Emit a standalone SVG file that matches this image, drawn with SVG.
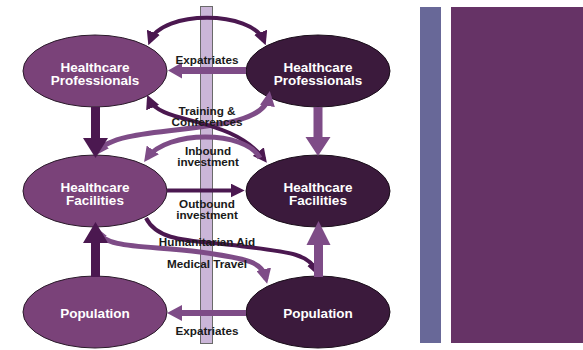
<svg xmlns="http://www.w3.org/2000/svg" width="583" height="350" viewBox="0 0 583 350">
<style>
.nl{fill:#7a4279;stroke:#2a1a2a;stroke-width:1}
.nd{fill:#3b1a3c;stroke:#1a0d1a;stroke-width:1}
.nt{font-family:"Liberation Sans",Arial,sans-serif;font-weight:bold;font-size:13.5px;fill:#ffffff;text-anchor:middle}
.lb{font-family:"Liberation Sans",Arial,sans-serif;font-weight:bold;font-size:11.7px;fill:#1a1a1a;text-anchor:middle}
.cd{fill:none;stroke:#4b1850;stroke-width:4}
.cm{fill:none;stroke:#7e4c87;stroke-width:5}
.fd{fill:#4b1850}
.fm{fill:#7e4c87}
</style>
<defs>
<marker id="ad" markerUnits="userSpaceOnUse" markerWidth="14" markerHeight="14" viewBox="0 0 12 12" refX="8" refY="6" orient="auto-start-reverse">
<path d="M0,0 L12,6 L0,12 z" fill="#4b1850"/>
</marker>
<marker id="am" markerUnits="userSpaceOnUse" markerWidth="15" markerHeight="15" viewBox="0 0 12 12" refX="8" refY="6" orient="auto-start-reverse">
<path d="M0,0 L12,6 L0,12 z" fill="#7e4c87"/>
</marker>
</defs>
<rect x="0" y="0" width="583" height="350" fill="#ffffff"/>
<rect id="bar-blue" x="420" y="7" width="21" height="336" fill="#686898"/>
<rect id="bar-purple" x="451" y="7" width="132" height="336" fill="#663366"/>
<rect id="divider" x="200.5" y="6.5" width="12" height="337" fill="#cbb6d8" stroke="#6a6a6a" stroke-width="1"/>

<g id="node-hp-left"><ellipse class="nl" cx="95" cy="71" rx="72" ry="36"/><text class="nt" x="95" y="72">Healthcare</text><text class="nt" x="95" y="85">Professionals</text></g>
<g id="node-hp-right"><ellipse class="nd" cx="318" cy="71" rx="72" ry="36"/><text class="nt" x="318" y="72">Healthcare</text><text class="nt" x="318" y="85">Professionals</text></g>
<g id="node-hf-left"><ellipse class="nl" cx="95" cy="191" rx="72" ry="36"/><text class="nt" x="95" y="192">Healthcare</text><text class="nt" x="95" y="205">Facilities</text></g>
<g id="node-hf-right"><ellipse class="nd" cx="318" cy="191" rx="72" ry="36"/><text class="nt" x="318" y="192">Healthcare</text><text class="nt" x="318" y="205">Facilities</text></g>
<g id="node-pop-left"><ellipse class="nl" cx="95" cy="312" rx="72" ry="36"/><text class="nt" x="95" y="318">Population</text></g>
<g id="node-pop-right"><ellipse class="nd" cx="318" cy="312" rx="72" ry="36"/><text class="nt" x="318" y="318">Population</text></g>

<g id="connectors">
<path class="cd" d="M150,41 C162,10 252,10 264,41" marker-start="url(#ad)" marker-end="url(#ad)"/>
<polygon class="fm" points="246,67 182,67 182,62.5 168,70.5 182,78.5 182,74 246,74"/>
<path class="cm" d="M269,96 C262,140 120,120 97,152" marker-start="url(#am)" marker-end="url(#am)"/>
<path class="cd" d="M149,99 C160,125 230,115 264,159" marker-start="url(#ad)" marker-end="url(#ad)"/>
<path class="cm" d="M260,158 C245,130 167,130 147,158" marker-end="url(#am)"/>
<polygon class="fd" points="91,107 100,107 100,138 108,138 95.5,158 83,138 91,138"/>
<polygon class="fm" points="313.5,107 322.5,107 322.5,137 330.5,137 318,156 305.5,137 313.5,137"/>
<path class="cd" d="M167,190.5 L240,190.5" marker-end="url(#ad)"/>
<path class="cm" d="M96,230 C105,250 150,245 200,252 S262,262 266,279" marker-start="url(#am)" marker-end="url(#am)"/>
<path class="cd" d="M146,218 C158,242 190,240 240,246 S310,254 317,272" marker-end="url(#ad)"/>
<polygon class="fd" points="91,277 100,277 100,243 108,243 95.5,222 83,243 91,243"/>
<polygon class="fm" points="314,277 323,277 323,245 330.5,245 318.5,221 306.5,245 314,245"/>
<polygon class="fm" points="246,310 182,310 182,305 167,313 182,321 182,316 246,316"/>
<g id="labels">
<text class="lb" x="207" y="64">Expatriates</text>
<text class="lb" x="207" y="115">Training &amp;</text>
<text class="lb" x="207" y="126">Conferences</text>
<text class="lb" x="208" y="155">Inbound</text>
<text class="lb" x="208" y="166">investment</text>
<text class="lb" x="207" y="208">Outbound</text>
<text class="lb" x="207" y="219">investment</text>
<text class="lb" x="207" y="246">Humanitarian Aid</text>
<text class="lb" x="207" y="268">Medical Travel</text>
<text class="lb" x="207" y="335">Expatriates</text>
</g>
</g>
</svg>
